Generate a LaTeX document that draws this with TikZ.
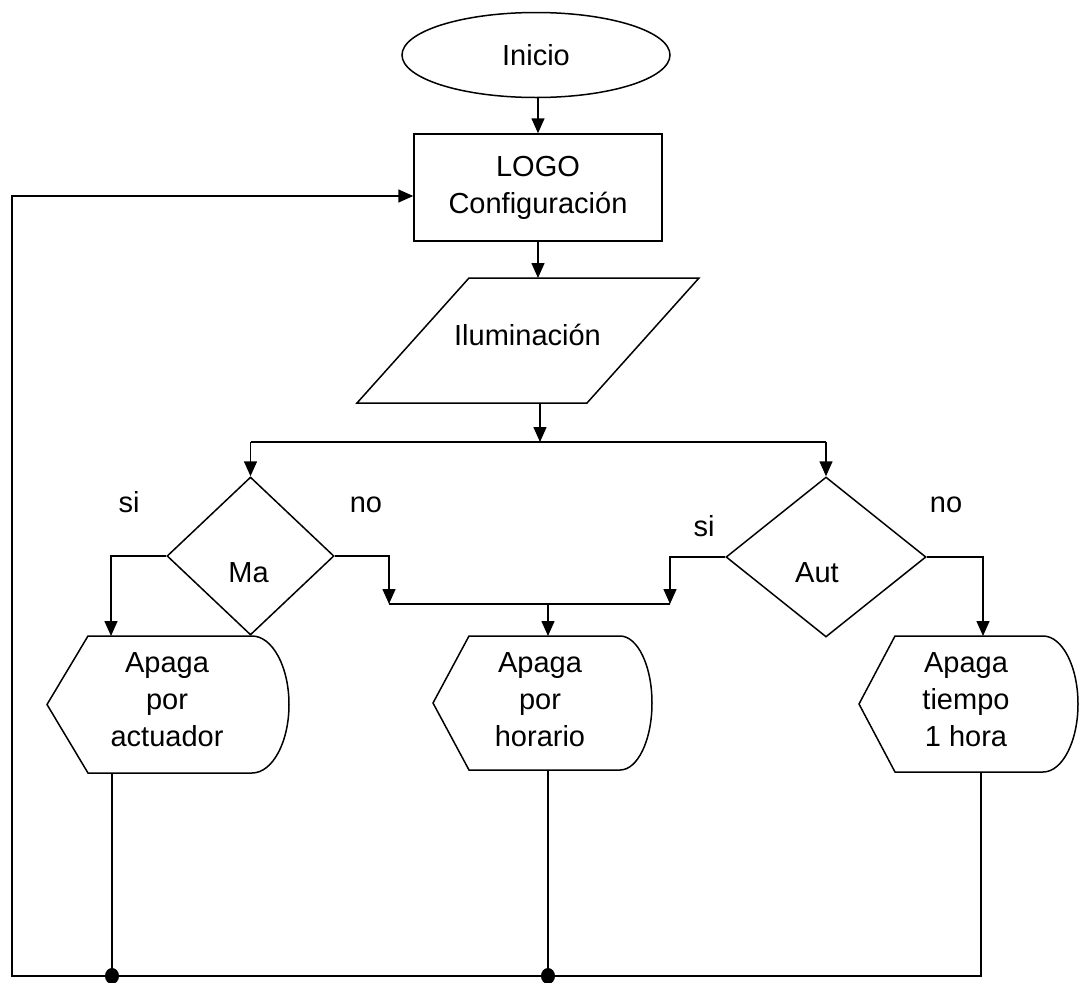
\documentclass[tikz,border=0pt]{standalone}
\usepackage{fontspec}
\setmainfont{Liberation Sans}
\usetikzlibrary{shapes.geometric,arrows.meta}
\begin{document}
\begin{tikzpicture}[x=1pt,y=-1pt, line width=1.5pt,
  every node/.style={font=\fontsize{29}{37}\selectfont, inner sep=0pt},
  arr/.style={-{Triangle[length=15pt,width=13pt]}},
  dec/.style={draw, diamond},
  txt/.style={align=center}]
\useasboundingbox (0,0) rectangle (1080,983);

% start and configuration
\node[draw, ellipse, minimum width=268, minimum height=85] (inicio) at (536,55) {Inicio};
\node[draw, minimum width=248, minimum height=107, align=center] (logo) at (538,187.5) {LOGO\\Configuración};
\draw[arr] (inicio.south -| logo.north) -- (logo.north);

% input parallelogram
\draw (469,278) -- (699,278) -- (587,403) -- (357,403) -- cycle;
\node (ilum) at (527.5,334.5) {Iluminación};
\coordinate (ilT) at (538,278);
\coordinate (ilB) at (540,403);
\draw[arr] (logo.south) -- (ilT);

% decisions
\node[dec, minimum width=167, minimum height=158,
      label={[xshift=-2pt,yshift=-17pt]center:Ma}] (ma) at (250.5,556) {};
\node[dec, minimum width=200, minimum height=160,
      label={[xshift=-9pt,yshift=-16pt]center:Aut}] (aut) at (826,557) {};

\coordinate (sp) at (540,442);
\draw[arr] (ilB) -- (sp);
\draw (ma.north |- sp) -- (aut.north |- sp);
\draw[arr] (ma.north |- sp) -- (ma.north);
\draw[arr] (aut.north |- sp) -- (aut.north);

% branch labels
\node (si1) at (129,502) {si};
\node (no1) at (366,505) {no};
\node (si2) at (704,526) {si};
\node (no2) at (946,505) {no};

% displays
\draw (47,704.5) -- (88,636) -- (252,636) .. controls (272.4,636) and (289,666.7) .. (289,704.5)
      .. controls (289,742.3) and (272.4,773) .. (252,773) -- (88,773) -- cycle;
\draw (433,703) -- (469,636) -- (620,636) .. controls (637.7,636) and (652,666) .. (652,703)
      .. controls (652,740) and (637.7,770) .. (620,770) -- (469,770) -- cycle;
\draw (859,704) -- (895,636) -- (1043,636) .. controls (1062.3,636) and (1078,666.5) .. (1078,704)
      .. controls (1078,741.5) and (1062.3,772) .. (1043,772) -- (895,772) -- cycle;
\node[txt] (d1) at (167,700) {Apaga\\por\\actuador};
\node[txt] (d2) at (540,700) {Apaga\\por\\horario};
\node[txt] (d3) at (966,700) {Apaga\\tiempo\\1 hora};

% branches to displays
\coordinate (d1t) at (111,636);
\coordinate (d2t) at (548,636);
\coordinate (d3t) at (983,636);
\coordinate (mj) at (389,604);
\coordinate (aj) at (670,604);
\draw[arr] (ma.west) -| (d1t);
\draw[arr] (ma.east) -| (mj);
\draw[arr] (aut.west) -| (aj);
\draw (mj) -- (aj);
\draw[arr] (d2t |- mj) -- (d2t);
\draw[arr] (aut.east) -| (d3t);

% return loop
\coordinate (d1b) at (112,773);
\coordinate (d2b) at (548,770);
\coordinate (d3b) at (981,772);
\coordinate (b1) at (112,976);
\coordinate (b2) at (548,976);
\coordinate (b3) at (981,976);
\coordinate (c1) at (12,976);
\coordinate (c2) at (12,196);
\coordinate (fb) at (logo.west |- c2);
\draw (d1b) -- (b1);
\draw (d2b) -- (b2);
\draw[arr] (d3b) -- (b3) -- (c1) -- (c2) -- (fb);
\fill (b1) circle[x radius=7, y radius=8];
\fill (b2) circle[x radius=7, y radius=8];
\end{tikzpicture}
\end{document}
